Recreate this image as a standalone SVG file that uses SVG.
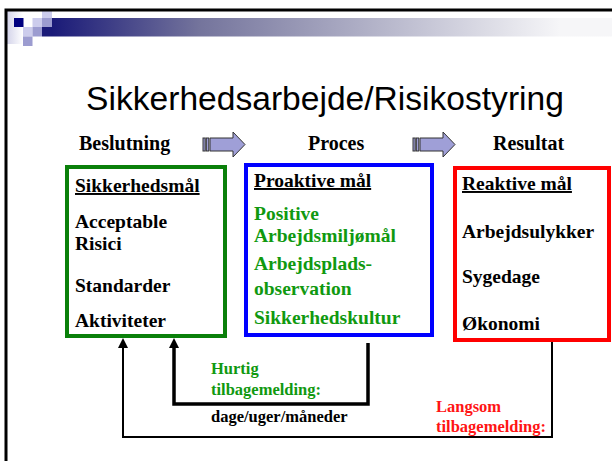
<svg xmlns="http://www.w3.org/2000/svg" width="612" height="461" viewBox="0 0 612 461">
<defs>
<linearGradient id="bar" x1="52" y1="0" x2="560" y2="0" gradientUnits="userSpaceOnUse">
<stop offset="0" stop-color="#1a1a78"/>
<stop offset="0.29" stop-color="#74749c"/>
<stop offset="1" stop-color="#f6f6f8"/>
</linearGradient>
<linearGradient id="fade" x1="0" y1="0" x2="1" y2="0">
<stop offset="0" stop-color="#d4d4ea"/>
<stop offset="1" stop-color="#ffffff"/>
</linearGradient>
<marker id="ah" viewBox="0 0 10 10" refX="2" refY="5" markerWidth="10" markerHeight="10" markerUnits="userSpaceOnUse" orient="auto">
<path d="M0,0 L10,5 L0,10 z" fill="#000"/>
</marker>
<g id="barrow">
<rect x="0" y="6" width="2.2" height="13" fill="#9f9fd7" stroke="#333" stroke-width="1"/>
<rect x="3.3" y="6" width="2.5" height="13" fill="#9f9fd7" stroke="#333" stroke-width="1"/>
<path d="M7,6 H30 V0 L42,12.5 L30,25 V19 H7 Z" fill="#9f9fd7" stroke="#333" stroke-width="1"/>
</g>
</defs>
<style>
.hd{font-family:"Liberation Serif","Times New Roman",serif;font-weight:bold;font-size:20px;fill:#000}
.it{font-family:"Liberation Serif","Times New Roman",serif;font-weight:bold;font-size:19.5px}
.sm{font-family:"Liberation Serif","Times New Roman",serif;font-weight:bold;font-size:16.5px}
.blk{fill:#000}
.grn{fill:#109910}
.red{fill:#ff1414}
.u{text-decoration:underline}
.box{fill:#fff;stroke-width:4}
.conn{fill:none;stroke:#000;marker-end:url(#ah)}
</style>
<rect width="612" height="461" fill="#fff"/>
<g id="decor">
<rect x="7" y="11" width="16" height="33" fill="url(#fade)"/>
<rect x="42" y="18" width="570" height="18.5" fill="url(#bar)"/>
<rect x="14" y="18" width="9.5" height="9" fill="#000080"/>
<rect x="32.5" y="18" width="9.5" height="9" fill="#ccccec"/>
<rect x="42" y="11" width="10" height="7" fill="#ccccec"/>
<rect x="42" y="18" width="10" height="9" fill="#9c9cd0"/>
<rect x="23" y="27" width="9.5" height="9.5" fill="#ccccec"/>
<rect x="32.5" y="27" width="9.5" height="9.5" fill="#9c9cd0"/>
<rect x="23" y="36.5" width="9.5" height="9.5" fill="#9c9cd0"/>
<rect x="6" y="10" width="700" height="600" fill="none" stroke="#000" stroke-width="3"/>
</g>
<text x="325" y="110" text-anchor="middle" font-family="Liberation Sans, Arial, sans-serif" font-size="33.6" fill="#000">Sikkerhedsarbejde/Risikostyring</text>
<g id="headers">
<text class="hd" x="79" y="150">Beslutning</text>
<text class="hd" x="308" y="150">Proces</text>
<text class="hd" x="493" y="150">Resultat</text>
<use href="#barrow" x="203" y="132"/>
<use href="#barrow" x="413" y="132"/>
</g>
<g id="beslutning">
<rect class="box" x="67" y="167" width="158" height="169" stroke="#0a800a"/>
<text class="it blk u" x="75" y="192">Sikkerhedsmål</text>
<text class="it blk" x="75" y="228">Acceptable</text>
<text class="it blk" x="75" y="250">Risici</text>
<text class="it blk" x="75" y="292">Standarder</text>
<text class="it blk" x="75" y="327">Aktiviteter</text>
</g>
<g id="proces">
<rect class="box" x="246" y="165" width="186" height="170" stroke="#0000ff"/>
<text class="it blk u" x="254" y="187">Proaktive mål</text>
<text class="it grn" x="254" y="220">Positive</text>
<text class="it grn" x="254" y="242">Arbejdsmiljømål</text>
<text class="it grn" x="254" y="270">Arbejdsplads-</text>
<text class="it grn" x="254" y="295">observation</text>
<text class="it grn" x="254" y="324">Sikkerhedskultur</text>
</g>
<g id="resultat">
<rect class="box" x="455" y="168" width="154" height="172" stroke="#ff0000"/>
<text class="it blk u" x="462" y="190">Reaktive mål</text>
<text class="it blk" x="462" y="238">Arbejdsulykker</text>
<text class="it blk" x="462" y="283">Sygedage</text>
<text class="it blk" x="462" y="330">Økonomi</text>
</g>
<g id="connectors">
<path class="conn" d="M368,343 V404 H174 V346" stroke-width="3.5"/>
<path class="conn" d="M552,342 V437 H123 V346" stroke-width="2"/>
</g>
<g id="labels">
<text class="sm grn" x="211" y="374">Hurtig</text>
<text class="sm grn" x="211" y="395">tilbagemelding:</text>
<text class="sm blk" x="211" y="422">dage/uger/måneder</text>
<text class="sm red" x="436" y="412">Langsom</text>
<text class="sm red" x="436" y="432">tilbagemelding:</text>
</g>
</svg>
